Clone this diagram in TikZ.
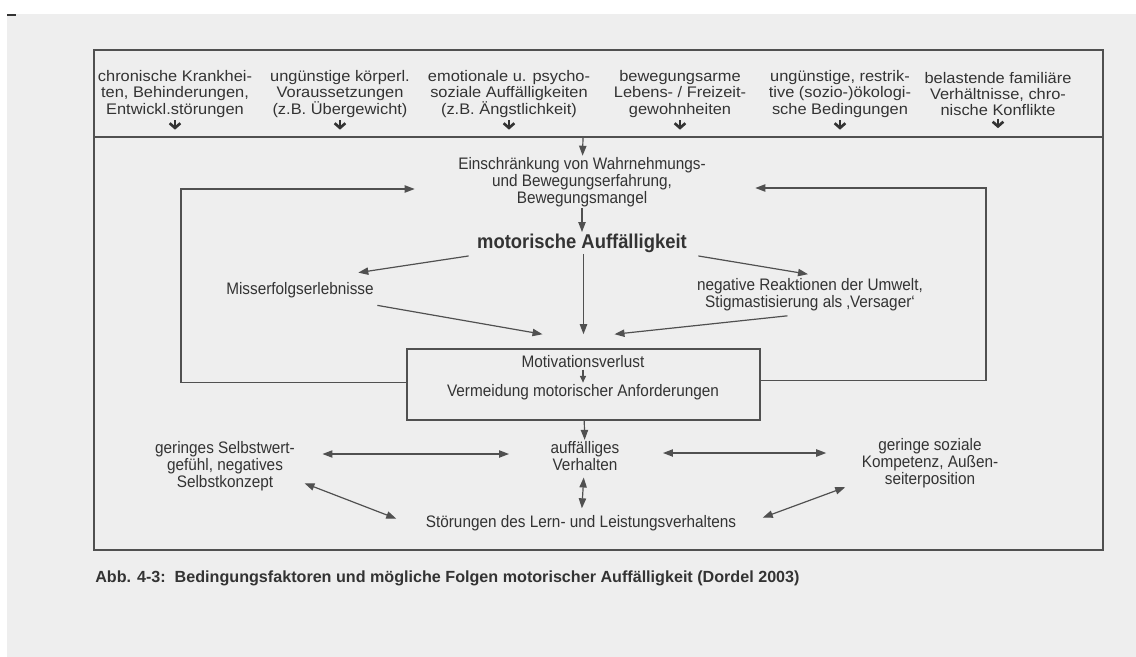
\documentclass[tikz,border=0pt]{standalone}
\usepackage{fontspec}
\setmainfont{Liberation Sans}
\newfontfamily\topfont[FakeStretch=1.07]{Liberation Sans}
\newfontfamily\bodyfont[FakeStretch=0.92]{Liberation Sans}
\usetikzlibrary{positioning, arrows.meta, calc}
\definecolor{scan}{HTML}{EEEEEE}
\definecolor{ink}{HTML}{333333}
\definecolor{rule}{HTML}{505050}

\begin{document}
\begin{tikzpicture}[x=0.75pt, y=-0.75pt,
  toptxt/.style={align=center, inner sep=1pt, text=ink, font=\topfont\fontsize{11.5}{12.2}\selectfont},
  bodytxt/.style={align=center, inner sep=1pt, text=ink, font=\bodyfont\fontsize{12.5}{11.5}\selectfont},
  arr/.style={-{Triangle[length=7.5pt,width=5.5pt]}, draw=rule, line width=0.9pt},
  dblarr/.style={{Triangle[length=7.5pt,width=5.5pt]}-{Triangle[length=7.5pt,width=5.5pt]}, draw=rule, line width=0.9pt},
  smallarr/.style={-{Straight Barb[length=3.5pt,width=8pt]}, draw=ink, line width=2pt},
  frame/.style={draw=rule, line width=1.4pt}]

% scanned page
\fill[white] (0,0) rectangle (1136,657);
\fill[scan] (7,14) rectangle (1136,657);
\fill[ink] (7,13.5) rectangle (16,15.5);

% outer frame and top band
\draw[frame] (94,50) rectangle (1103,550);
\draw[frame] (94,137) -- (1103,137);

% conditions
\node[toptxt] (c1) at (175,94) {chronische Krankhei-\\ten, Behinderungen,\\Entwickl.störungen};
\node[toptxt] (c2) at (340,94) {ungünstige körperl.\\Voraussetzungen\\(z.B. Übergewicht)};
\node[toptxt] (c3) at (509,94) {emotionale u. psycho-\\soziale Auffälligkeiten\\(z.B. Ängstlichkeit)};
\node[toptxt] (c4) at (680,94) {bewegungsarme\\Lebens- / Freizeit-\\gewohnheiten};
\node[toptxt] (c5) at (840,94) {ungünstige, restrik-\\tive (sozio-)ökologi-\\sche Bedingungen};
\node[toptxt] (c6) at (998,94) {belastende familiäre\\Verhältnisse, chro-\\nische Konflikte};
\foreach \n in {c1,c2,c3,c4,c5,c6}
  \draw[smallarr] ([yshift=-1pt]\n.south) -- ++(0,-7pt);

% central chain
\coordinate (split) at (583,137);
\node[bodytxt] (einsch) at (582,182) {Einschränkung von Wahrnehmungs-\\und Bewegungserfahrung,\\Bewegungsmangel};
\node[bodytxt, font=\bodyfont\bfseries\fontsize{15}{17}\selectfont] (motor) at (582,243) {motorische Auffälligkeit};
\node[bodytxt] (miss) at (300,290) {Misserfolgserlebnisse};
\node[bodytxt] (neg) at (810,295) {negative Reaktionen der Umwelt,\\Stigmastisierung als ‚Versager‘};
\draw[arr] (split) -- (einsch);
\draw[arr] (einsch) -- (motor);
\draw[arr] ($(motor.south west)+(-7,2)$) -- ($(miss.north east)+(-17,-8)$);
\draw[arr] ($(motor.south east)+(10,2)$) -- ($(neg.north)+(-2,-3)$);

% box
\node[draw=rule, line width=1.4pt, minimum width=264.75pt, minimum height=53pt] (box) at (583.5,384.5) {};
\node[bodytxt] (motiv) at (583,362) {Motivationsverlust};
\node[bodytxt] (verm) at (583,392) {Vermeidung motorischer Anforderungen};
\draw[-{Triangle[length=5pt,width=4.5pt]}, draw=rule, line width=0.8pt] (motiv) -- (verm);
\draw[arr] (motor.south -| box.north) -- ($(box.north)+(0,-14)$);
\draw[arr] ($(miss.south east)+(2,6)$) -- ($(box.north)+(-41,-14)$);
\draw[arr] ($(neg.south west)+(92,3)$) -- ($(box.north)+(31,-14)$);

% feedback loops
\draw[arr] ($(box.west)+(0,-2)$) -- ++(-225,0) |- ($(einsch.west)+(-42,7)$);
\draw[arr] ($(box.east)+(0,-4)$) -- ++(225,0) |- ($(einsch.east)+(48,6)$);

% consequences
\node[bodytxt] (auff) at (585,456) {auffälliges\\Verhalten};
\node[bodytxt] (selbst) at (225,466) {geringes Selbstwert-\\gefühl, negatives\\Selbstkonzept};
\node[bodytxt] (sozial) at (930,463) {geringe soziale\\Kompetenz, Außen-\\seiterposition};
\node[bodytxt] (stoer) at (581,523) {Störungen des Lern- und Leistungsverhaltens};
\draw[arr] (box) -- (auff);
\draw[dblarr] ($(selbst.east)+(26,-12)$) -- ($(auff.west)+(-40,-2)$);
\draw[dblarr] ($(auff.east)+(42,-3)$) -- ($(sozial.west)+(-34,-10)$);
\draw[dblarr, shorten <=4pt, shorten >=4pt] (auff) -- (stoer);
\draw[dblarr] ($(selbst.south east)+(8,-9)$) -- ($(stoer.north west)+(-28,5)$);
\draw[dblarr] ($(sozial.south west)+(-15,-2)$) -- ($(stoer.north east)+(25,4)$);

% caption
\node[anchor=west, inner sep=0pt, text=ink, font=\bfseries\fontsize{12.1}{14}\selectfont] (caption) at (95,578) {Abb. 4-3:\ \ Bedingungsfaktoren und mögliche Folgen motorischer Auffälligkeit (Dordel 2003)};
\end{tikzpicture}
\end{document}
